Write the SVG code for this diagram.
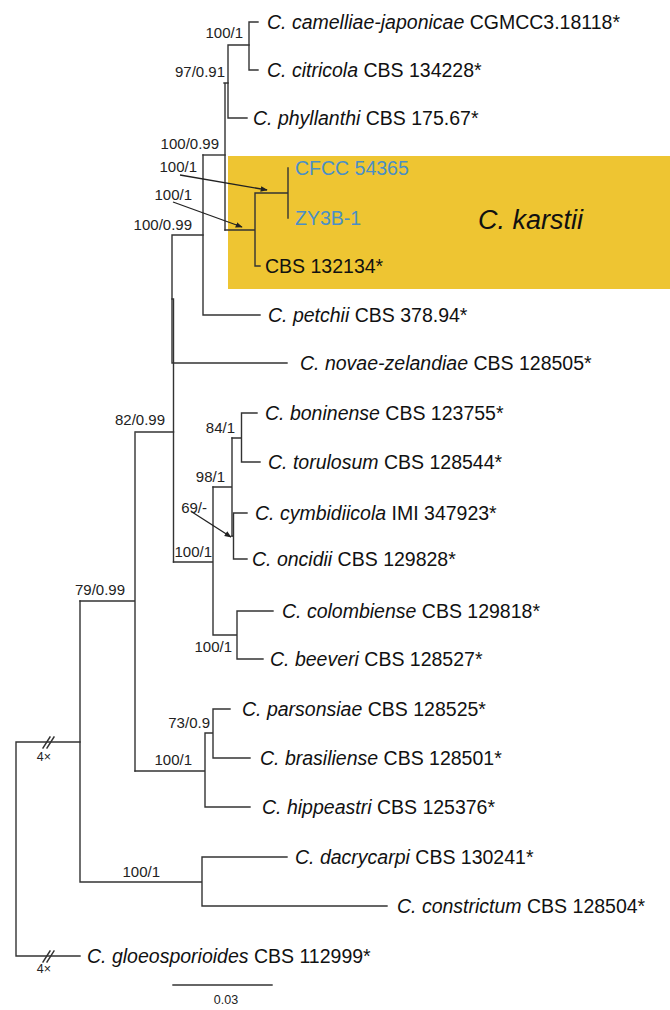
<svg xmlns="http://www.w3.org/2000/svg" width="670" height="1010" viewBox="0 0 670 1010">
<style>
.br{stroke:#333;stroke-width:1.4;fill:none;stroke-linecap:square}
.lb{font-family:"Liberation Sans",Arial,sans-serif;font-size:19.5px;fill:#111}
.lb tspan.i{font-style:italic}
.bl{fill:#4a8fc6}
.sp{font-family:"Liberation Sans",Arial,sans-serif;font-size:15px;fill:#222;text-anchor:end}
.sm{font-family:"Liberation Sans",Arial,sans-serif;font-size:12.5px;fill:#222;text-anchor:middle}
.ar{stroke:#222;stroke-width:1.3;fill:none;marker-end:url(#ah)}
</style>
<defs>
<marker id="ah" viewBox="0 0 10 10" refX="9" refY="5" markerWidth="7" markerHeight="7" orient="auto" markerUnits="userSpaceOnUse">
<path d="M0,1 L10,5 L0,9 z" fill="#222"/>
</marker>
</defs>
<rect width="670" height="1010" fill="#fff"/>
<g id="karstii-box">
<rect x="228" y="156" width="442" height="133" fill="#eec532"/>
<text x="478" y="229" font-family="'Liberation Sans',Arial,sans-serif" font-size="27" font-style="italic" fill="#111">C. karstii</text>
</g>
<g id="connectors">
<path class="br" d="M249,22 V70 M249,22 H258 M249,70 H258"/>
<path class="br" d="M228,45 H249 M228,45 V118 H247"/>
<path class="br" d="M224,83 H228 M225,83 V230"/>
<path class="br" d="M203,155 H225"/>
<path class="br" d="M225,230 H255 M255,193 V266 H260 M255,193 H288 M288,168 V218"/>
<path class="br" d="M203,155 V315 H260"/>
<path class="br" d="M172,235 H203 M172,235 V363 H287"/>
<path class="br" d="M172,299 H173.5 M173.5,299 V562"/>
<path class="br" d="M136,432 H173.5"/>
<path class="br" d="M241.5,413 V462 M241.5,413 H257 M241.5,462 H260 M232,438 H241.5"/>
<path class="br" d="M232,438 V536 M213,487 H232"/>
<path class="br" d="M232,536 H233.5 M233.5,513 V559 M233.5,513 H247 M233.5,559 H247"/>
<path class="br" d="M173.5,562 H213 M213,487 V635 H237 M237,611 V659 M237,611 H273 M237,659 H263"/>
<path class="br" d="M135,432 V771 M80,601 H135"/>
<path class="br" d="M135,771 H205 M205,733 V807 H250 M205,733 H213 M213,709 V758 M213,709 H230 M213,758 H250"/>
<path class="br" d="M80,601 V882 H202 M202,857 V906 M202,857 H287 M202,906 H387"/>
<path class="br" d="M16,742 H80 M16,742 V956 H80"/>
<path class="br" d="M43,748 L50,737 M47,748 L54,737 M43,962 L50,951 M47,962 L54,951"/>
<path class="br" d="M173,985 H272"/>
<line class="ar" x1="180" y1="175" x2="267" y2="190"/>
<line class="ar" x1="173" y1="202" x2="242" y2="227"/>
<line class="ar" x1="192" y1="512" x2="231" y2="537"/>
</g>
<g id="taxa">
<text id="t1" class="lb" x="267" y="29"><tspan class="i">C. camelliae-japonicae</tspan> CGMCC3.18118*</text>
<text id="t2" class="lb" x="267" y="77"><tspan class="i">C. citricola</tspan> CBS 134228*</text>
<text id="t3" class="lb" x="253" y="125"><tspan class="i">C. phyllanthi</tspan> CBS 175.67*</text>
<text id="t4" class="lb bl" x="295" y="175">CFCC 54365</text>
<text id="t5" class="lb bl" x="295" y="225">ZY3B-1</text>
<text id="t6" class="lb" x="265" y="273">CBS 132134*</text>
<text id="t7" class="lb" x="268" y="322"><tspan class="i">C. petchii</tspan> CBS 378.94*</text>
<text id="t8" class="lb" x="300" y="370"><tspan class="i">C. novae-zelandiae</tspan> CBS 128505*</text>
<text id="t9" class="lb" x="265" y="420"><tspan class="i">C. boninense</tspan> CBS 123755*</text>
<text id="t10" class="lb" x="268" y="469"><tspan class="i">C. torulosum</tspan> CBS 128544*</text>
<text id="t11" class="lb" x="255" y="520"><tspan class="i">C. cymbidiicola</tspan> IMI 347923*</text>
<text id="t12" class="lb" x="252" y="566"><tspan class="i">C. oncidii</tspan> CBS 129828*</text>
<text id="t13" class="lb" x="282" y="618"><tspan class="i">C. colombiense</tspan> CBS 129818*</text>
<text id="t14" class="lb" x="270" y="666"><tspan class="i">C. beeveri</tspan> CBS 128527*</text>
<text id="t15" class="lb" x="242" y="716"><tspan class="i">C. parsonsiae</tspan> CBS 128525*</text>
<text id="t16" class="lb" x="260" y="765"><tspan class="i">C. brasiliense</tspan> CBS 128501*</text>
<text id="t17" class="lb" x="262" y="814"><tspan class="i">C. hippeastri</tspan> CBS 125376*</text>
<text id="t18" class="lb" x="295" y="864"><tspan class="i">C. dacrycarpi</tspan> CBS 130241*</text>
<text id="t19" class="lb" x="397" y="913"><tspan class="i">C. constrictum</tspan> CBS 128504*</text>
<text id="t20" class="lb" x="87" y="963"><tspan class="i">C. gloeosporioides</tspan> CBS 112999*</text>
</g>
<g id="support">
<text class="sp" x="243" y="38">100/1</text>
<text class="sp" x="225" y="77">97/0.91</text>
<text class="sp" x="219" y="149">100/0.99</text>
<text class="sp" x="197" y="172">100/1</text>
<text class="sp" x="192" y="200">100/1</text>
<text class="sp" x="192" y="230">100/0.99</text>
<text class="sp" x="165" y="425">82/0.99</text>
<text class="sp" x="235" y="433">84/1</text>
<text class="sp" x="225" y="482">98/1</text>
<text class="sp" x="207" y="513">69/-</text>
<text class="sp" x="212" y="557">100/1</text>
<text class="sp" x="232" y="652">100/1</text>
<text class="sp" x="125" y="595">79/0.99</text>
<text class="sp" x="210" y="728">73/0.9</text>
<text class="sp" x="192" y="765">100/1</text>
<text class="sp" x="160" y="877">100/1</text>
</g>
<g id="misc">
<text class="sm" x="44" y="761">4×</text>
<text class="sm" x="44" y="973">4×</text>
<text class="sm" x="226" y="1004">0.03</text>
</g>
</svg>
